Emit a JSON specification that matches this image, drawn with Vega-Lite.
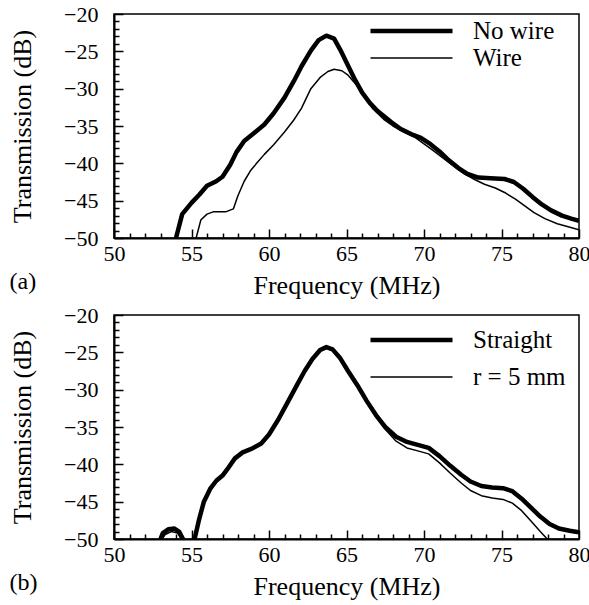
{
  "$schema": "https://vega.github.io/schema/vega-lite/v6.json",
  "background": "white",
  "padding": {"left": 8, "top": 2, "right": 5, "bottom": 2},
  "spacing": 4,
  "datasets": {
    "a": [
      {"series": "No wire", "f": 54.0, "v": -50},
      {"series": "No wire", "f": 54.4, "v": -46.8},
      {"series": "No wire", "f": 55.0, "v": -45.3},
      {"series": "No wire", "f": 55.5, "v": -44.2},
      {"series": "No wire", "f": 56.0, "v": -43.0},
      {"series": "No wire", "f": 56.6, "v": -42.4},
      {"series": "No wire", "f": 57.0, "v": -41.8},
      {"series": "No wire", "f": 57.5, "v": -40.2},
      {"series": "No wire", "f": 57.9, "v": -38.5},
      {"series": "No wire", "f": 58.4, "v": -37.0},
      {"series": "No wire", "f": 59.0, "v": -36.0},
      {"series": "No wire", "f": 59.7, "v": -34.8},
      {"series": "No wire", "f": 60.3, "v": -33.3},
      {"series": "No wire", "f": 61.0, "v": -31.2},
      {"series": "No wire", "f": 61.6, "v": -29.0},
      {"series": "No wire", "f": 62.1, "v": -27.0},
      {"series": "No wire", "f": 62.7, "v": -24.9},
      {"series": "No wire", "f": 63.2, "v": -23.5},
      {"series": "No wire", "f": 63.7, "v": -22.9},
      {"series": "No wire", "f": 64.2, "v": -23.3},
      {"series": "No wire", "f": 64.6, "v": -24.8},
      {"series": "No wire", "f": 65.0, "v": -26.5},
      {"series": "No wire", "f": 65.5, "v": -28.6},
      {"series": "No wire", "f": 66.0, "v": -30.5},
      {"series": "No wire", "f": 66.5, "v": -31.9},
      {"series": "No wire", "f": 67.0, "v": -33.0},
      {"series": "No wire", "f": 67.9, "v": -34.5},
      {"series": "No wire", "f": 68.5, "v": -35.4},
      {"series": "No wire", "f": 69.2, "v": -36.1},
      {"series": "No wire", "f": 69.8, "v": -36.6},
      {"series": "No wire", "f": 70.4, "v": -37.4},
      {"series": "No wire", "f": 71.0, "v": -38.4},
      {"series": "No wire", "f": 71.6, "v": -39.6},
      {"series": "No wire", "f": 72.2, "v": -40.6},
      {"series": "No wire", "f": 72.8, "v": -41.4},
      {"series": "No wire", "f": 73.5, "v": -41.9},
      {"series": "No wire", "f": 74.3, "v": -42.0},
      {"series": "No wire", "f": 75.2, "v": -42.1},
      {"series": "No wire", "f": 75.8, "v": -42.5},
      {"series": "No wire", "f": 76.4, "v": -43.4},
      {"series": "No wire", "f": 77.0, "v": -44.5},
      {"series": "No wire", "f": 77.6, "v": -45.5},
      {"series": "No wire", "f": 78.2, "v": -46.3},
      {"series": "No wire", "f": 78.9, "v": -47.0},
      {"series": "No wire", "f": 79.5, "v": -47.4},
      {"series": "No wire", "f": 80.0, "v": -47.7},
      {"series": "Wire", "f": 55.3, "v": -50},
      {"series": "Wire", "f": 55.6, "v": -47.6},
      {"series": "Wire", "f": 56.0, "v": -46.8},
      {"series": "Wire", "f": 56.4, "v": -46.5},
      {"series": "Wire", "f": 57.2, "v": -46.5},
      {"series": "Wire", "f": 57.7, "v": -46.1},
      {"series": "Wire", "f": 58.0, "v": -44.3},
      {"series": "Wire", "f": 58.4, "v": -42.4},
      {"series": "Wire", "f": 58.8, "v": -41.0},
      {"series": "Wire", "f": 59.2, "v": -40.0},
      {"series": "Wire", "f": 59.7, "v": -38.8},
      {"series": "Wire", "f": 60.3, "v": -37.5},
      {"series": "Wire", "f": 61.0, "v": -35.8},
      {"series": "Wire", "f": 61.6, "v": -34.2},
      {"series": "Wire", "f": 62.1, "v": -32.6},
      {"series": "Wire", "f": 62.7, "v": -30.0},
      {"series": "Wire", "f": 63.3, "v": -28.5},
      {"series": "Wire", "f": 63.8, "v": -27.7},
      {"series": "Wire", "f": 64.2, "v": -27.4},
      {"series": "Wire", "f": 64.7, "v": -27.6},
      {"series": "Wire", "f": 65.1, "v": -28.2},
      {"series": "Wire", "f": 65.6, "v": -29.4},
      {"series": "Wire", "f": 66.1, "v": -30.9},
      {"series": "Wire", "f": 66.7, "v": -32.7},
      {"series": "Wire", "f": 67.4, "v": -34.1},
      {"series": "Wire", "f": 68.0, "v": -35.0},
      {"series": "Wire", "f": 68.7, "v": -35.8},
      {"series": "Wire", "f": 69.4, "v": -36.5},
      {"series": "Wire", "f": 70.0, "v": -37.4},
      {"series": "Wire", "f": 70.6, "v": -38.3},
      {"series": "Wire", "f": 71.3, "v": -39.4},
      {"series": "Wire", "f": 72.0, "v": -40.5},
      {"series": "Wire", "f": 72.6, "v": -41.4},
      {"series": "Wire", "f": 73.3, "v": -42.2},
      {"series": "Wire", "f": 73.9, "v": -42.8},
      {"series": "Wire", "f": 74.6, "v": -43.3},
      {"series": "Wire", "f": 75.2, "v": -43.9},
      {"series": "Wire", "f": 75.9, "v": -44.8},
      {"series": "Wire", "f": 76.5, "v": -45.7},
      {"series": "Wire", "f": 77.1, "v": -46.6},
      {"series": "Wire", "f": 77.8, "v": -47.4},
      {"series": "Wire", "f": 78.6, "v": -48.1},
      {"series": "Wire", "f": 79.3, "v": -48.5},
      {"series": "Wire", "f": 80.0, "v": -48.9}
    ],
    "b": [
      {"series": "Straight", "f": 53.0, "v": -50},
      {"series": "Straight", "f": 53.15, "v": -49.2},
      {"series": "Straight", "f": 53.5, "v": -48.7},
      {"series": "Straight", "f": 53.9, "v": -48.6},
      {"series": "Straight", "f": 54.2, "v": -49.0},
      {"series": "Straight", "f": 54.45, "v": -50},
      {"series": "Straight", "f": 54.8, "v": -52},
      {"series": "Straight", "f": 55.2, "v": -50},
      {"series": "Straight", "f": 55.5, "v": -47.3},
      {"series": "Straight", "f": 55.8, "v": -45.0},
      {"series": "Straight", "f": 56.2, "v": -43.3},
      {"series": "Straight", "f": 56.6, "v": -42.2},
      {"series": "Straight", "f": 57.0, "v": -41.5},
      {"series": "Straight", "f": 57.4, "v": -40.4},
      {"series": "Straight", "f": 57.8, "v": -39.2},
      {"series": "Straight", "f": 58.3, "v": -38.4},
      {"series": "Straight", "f": 58.9, "v": -37.9},
      {"series": "Straight", "f": 59.5, "v": -37.2},
      {"series": "Straight", "f": 60.0, "v": -36.0},
      {"series": "Straight", "f": 60.6, "v": -34.0},
      {"series": "Straight", "f": 61.2, "v": -31.7},
      {"series": "Straight", "f": 61.8, "v": -29.4},
      {"series": "Straight", "f": 62.3, "v": -27.5},
      {"series": "Straight", "f": 62.8, "v": -25.9},
      {"series": "Straight", "f": 63.3, "v": -24.7},
      {"series": "Straight", "f": 63.7, "v": -24.3},
      {"series": "Straight", "f": 64.1, "v": -24.6},
      {"series": "Straight", "f": 64.6, "v": -25.8},
      {"series": "Straight", "f": 65.1, "v": -27.5},
      {"series": "Straight", "f": 65.7, "v": -29.4},
      {"series": "Straight", "f": 66.3, "v": -31.5},
      {"series": "Straight", "f": 66.9, "v": -33.4},
      {"series": "Straight", "f": 67.5, "v": -35.0},
      {"series": "Straight", "f": 68.2, "v": -36.3},
      {"series": "Straight", "f": 68.9, "v": -37.0},
      {"series": "Straight", "f": 69.6, "v": -37.4},
      {"series": "Straight", "f": 70.3, "v": -37.8},
      {"series": "Straight", "f": 71.0, "v": -38.9},
      {"series": "Straight", "f": 71.7, "v": -40.2},
      {"series": "Straight", "f": 72.4, "v": -41.4},
      {"series": "Straight", "f": 73.0, "v": -42.3},
      {"series": "Straight", "f": 73.7, "v": -42.9},
      {"series": "Straight", "f": 74.4, "v": -43.1},
      {"series": "Straight", "f": 75.1, "v": -43.2},
      {"series": "Straight", "f": 75.7, "v": -43.6},
      {"series": "Straight", "f": 76.3, "v": -44.6},
      {"series": "Straight", "f": 76.9, "v": -45.8},
      {"series": "Straight", "f": 77.5, "v": -47.0},
      {"series": "Straight", "f": 78.1, "v": -48.0},
      {"series": "Straight", "f": 78.7, "v": -48.6},
      {"series": "Straight", "f": 79.4, "v": -48.9},
      {"series": "Straight", "f": 80.0, "v": -49.1},
      {"series": "r = 5 mm", "f": 53.1, "v": -50},
      {"series": "r = 5 mm", "f": 53.3, "v": -49.4},
      {"series": "r = 5 mm", "f": 53.7, "v": -49.0},
      {"series": "r = 5 mm", "f": 54.1, "v": -49.2},
      {"series": "r = 5 mm", "f": 54.35, "v": -50},
      {"series": "r = 5 mm", "f": 54.8, "v": -52},
      {"series": "r = 5 mm", "f": 55.2, "v": -50},
      {"series": "r = 5 mm", "f": 55.5, "v": -47.3},
      {"series": "r = 5 mm", "f": 55.8, "v": -45.0},
      {"series": "r = 5 mm", "f": 56.2, "v": -43.3},
      {"series": "r = 5 mm", "f": 56.6, "v": -42.2},
      {"series": "r = 5 mm", "f": 57.0, "v": -41.5},
      {"series": "r = 5 mm", "f": 57.4, "v": -40.4},
      {"series": "r = 5 mm", "f": 57.8, "v": -39.2},
      {"series": "r = 5 mm", "f": 58.3, "v": -38.4},
      {"series": "r = 5 mm", "f": 58.9, "v": -37.9},
      {"series": "r = 5 mm", "f": 59.5, "v": -37.2},
      {"series": "r = 5 mm", "f": 60.0, "v": -36.0},
      {"series": "r = 5 mm", "f": 60.6, "v": -34.0},
      {"series": "r = 5 mm", "f": 61.2, "v": -31.7},
      {"series": "r = 5 mm", "f": 61.8, "v": -29.4},
      {"series": "r = 5 mm", "f": 62.3, "v": -27.5},
      {"series": "r = 5 mm", "f": 62.8, "v": -25.9},
      {"series": "r = 5 mm", "f": 63.3, "v": -24.7},
      {"series": "r = 5 mm", "f": 63.7, "v": -24.3},
      {"series": "r = 5 mm", "f": 64.1, "v": -24.6},
      {"series": "r = 5 mm", "f": 64.6, "v": -25.8},
      {"series": "r = 5 mm", "f": 65.1, "v": -27.5},
      {"series": "r = 5 mm", "f": 65.7, "v": -29.4},
      {"series": "r = 5 mm", "f": 66.3, "v": -31.5},
      {"series": "r = 5 mm", "f": 66.9, "v": -33.5},
      {"series": "r = 5 mm", "f": 67.5, "v": -35.3},
      {"series": "r = 5 mm", "f": 68.2, "v": -36.9},
      {"series": "r = 5 mm", "f": 68.9, "v": -37.8},
      {"series": "r = 5 mm", "f": 69.6, "v": -38.2},
      {"series": "r = 5 mm", "f": 70.3, "v": -38.6},
      {"series": "r = 5 mm", "f": 71.0, "v": -39.8},
      {"series": "r = 5 mm", "f": 71.7, "v": -41.2},
      {"series": "r = 5 mm", "f": 72.4, "v": -42.5},
      {"series": "r = 5 mm", "f": 73.0, "v": -43.5},
      {"series": "r = 5 mm", "f": 73.7, "v": -44.2},
      {"series": "r = 5 mm", "f": 74.4, "v": -44.5},
      {"series": "r = 5 mm", "f": 75.1, "v": -44.7},
      {"series": "r = 5 mm", "f": 75.7, "v": -45.2},
      {"series": "r = 5 mm", "f": 76.3, "v": -46.2},
      {"series": "r = 5 mm", "f": 76.9, "v": -47.6},
      {"series": "r = 5 mm", "f": 77.5, "v": -49.0},
      {"series": "r = 5 mm", "f": 77.95, "v": -50},
      {"series": "r = 5 mm", "f": 78.3, "v": -51}
    ]
  },
  "vconcat": [
    {
      "width": 465,
      "height": 224,
      "title": {"text": "(a)", "orient": "bottom", "anchor": "start", "frame": "bounds", "offset": -28, "font": "Liberation Serif, Times New Roman, serif", "fontSize": 24, "fontWeight": "normal", "color": "black"},
      "data": {"name": "a"},
      "layer": [
        {
          "mark": {"type": "line", "color": "black", "clip": true, "strokeJoin": "round", "strokeCap": "butt"},
          "encoding": {
            "x": {"field": "f", "type": "quantitative", "scale": {"domain": [50, 80], "nice": false, "zero": false},
                  "axis": {"values": [50, 55, 60, 65, 70, 75, 80], "ticks": false, "title": "Frequency (MHz)", "grid": false,
                           "labelFont": "Liberation Serif, Times New Roman, serif", "labelFontSize": 22, "labelColor": "black", "labelPadding": 5, "labelFlush": false, "labelOverlap": false,
                           "titleFont": "Liberation Serif, Times New Roman, serif", "titleFontSize": 26, "titleFontWeight": "normal", "titleColor": "black", "titlePadding": 8,
                           "domain": true, "domainColor": "black", "domainWidth": 2}},
            "y": {"field": "v", "type": "quantitative", "scale": {"domain": [-50, -20], "nice": false, "zero": false},
                  "axis": {"values": [-50, -45, -40, -35, -30, -25, -20], "ticks": false, "title": "Transmission (dB)", "grid": false,
                           "labelFont": "Liberation Serif, Times New Roman, serif", "labelFontSize": 22, "labelColor": "black", "labelPadding": 16, "labelFlush": false, "labelOverlap": false,
                           "titleFont": "Liberation Serif, Times New Roman, serif", "titleFontSize": 26, "titleFontWeight": "normal", "titleColor": "black", "titlePadding": 28,
                           "domain": true, "domainColor": "black", "domainWidth": 2}},
            "strokeWidth": {"field": "series", "type": "ordinal", "scale": {"domain": ["No wire", "Wire"], "range": [4.5, 1.5]},
                  "legend": {"orient": "none", "legendX": 254, "legendY": 4, "clipHeight": 26, "rowPadding": 1, "title": null,
                             "symbolType": "stroke", "symbolSize": 6724, "symbolStrokeColor": "black", "padding": 0, "direction": "vertical",
                             "labelFont": "Liberation Serif, Times New Roman, serif", "labelFontSize": 25, "labelColor": "black", "labelOffset": 18}},
            "detail": {"field": "series"}
          }
        },
        {
          "mark": {"type": "point", "opacity": 0},
          "encoding": {
            "x": {"field": "f", "type": "quantitative", "axis": {"orient": "top", "offset": -224, "values": [50, 55, 60, 65, 70, 75, 80], "labels": false, "domain": false, "grid": false, "ticks": true, "tickSize": 9, "tickColor": "black", "tickWidth": 1.5, "title": null}},
            "y": {"field": "v", "type": "quantitative", "axis": {"orient": "right", "offset": -465, "values": [-50, -45, -40, -35, -30, -25, -20], "labels": false, "domain": false, "grid": false, "ticks": true, "tickSize": 9, "tickColor": "black", "tickWidth": 1.5, "title": null}}
          }
        },
        {
          "mark": {"type": "point", "opacity": 0},
          "encoding": {
            "x": {"field": "f", "type": "quantitative", "axis": {"orient": "top", "offset": -224, "values": [51,52,53,54,56,57,58,59,61,62,63,64,66,67,68,69,71,72,73,74,76,77,78,79], "labels": false, "domain": false, "grid": false, "ticks": true, "tickSize": 5, "tickColor": "black", "tickWidth": 1.5, "title": null}},
            "y": {"field": "v", "type": "quantitative", "axis": {"orient": "right", "offset": -465, "values": [-49,-48,-47,-46,-44,-43,-42,-41,-39,-38,-37,-36,-34,-33,-32,-31,-29,-28,-27,-26,-24,-23,-22,-21], "labels": false, "domain": false, "grid": false, "ticks": true, "tickSize": 5, "tickColor": "black", "tickWidth": 1.5, "title": null}}
          }
        }
      ],
      "resolve": {"axis": {"x": "independent", "y": "independent"}}
    },
    {
      "width": 465,
      "height": 224,
      "title": {"text": "(b)", "orient": "bottom", "anchor": "start", "frame": "bounds", "offset": -28, "font": "Liberation Serif, Times New Roman, serif", "fontSize": 24, "fontWeight": "normal", "color": "black"},
      "data": {"name": "b"},
      "layer": [
        {
          "mark": {"type": "line", "color": "black", "clip": true, "strokeJoin": "round", "strokeCap": "butt"},
          "encoding": {
            "x": {"field": "f", "type": "quantitative", "scale": {"domain": [50, 80], "nice": false, "zero": false},
                  "axis": {"values": [50, 55, 60, 65, 70, 75, 80], "ticks": false, "title": "Frequency (MHz)", "grid": false,
                           "labelFont": "Liberation Serif, Times New Roman, serif", "labelFontSize": 22, "labelColor": "black", "labelPadding": 5, "labelFlush": false, "labelOverlap": false,
                           "titleFont": "Liberation Serif, Times New Roman, serif", "titleFontSize": 26, "titleFontWeight": "normal", "titleColor": "black", "titlePadding": 8,
                           "domain": true, "domainColor": "black", "domainWidth": 2}},
            "y": {"field": "v", "type": "quantitative", "scale": {"domain": [-50, -20], "nice": false, "zero": false},
                  "axis": {"values": [-50, -45, -40, -35, -30, -25, -20], "ticks": false, "title": "Transmission (dB)", "grid": false,
                           "labelFont": "Liberation Serif, Times New Roman, serif", "labelFontSize": 22, "labelColor": "black", "labelPadding": 16, "labelFlush": false, "labelOverlap": false,
                           "titleFont": "Liberation Serif, Times New Roman, serif", "titleFontSize": 26, "titleFontWeight": "normal", "titleColor": "black", "titlePadding": 28,
                           "domain": true, "domainColor": "black", "domainWidth": 2}},
            "strokeWidth": {"field": "series", "type": "ordinal", "scale": {"domain": ["Straight", "r = 5 mm"], "range": [4.5, 1.5]},
                  "legend": {"orient": "none", "legendX": 254, "legendY": 10, "clipHeight": 30, "rowPadding": 7, "title": null,
                             "symbolType": "stroke", "symbolSize": 6724, "symbolStrokeColor": "black", "padding": 0, "direction": "vertical",
                             "labelFont": "Liberation Serif, Times New Roman, serif", "labelFontSize": 25, "labelColor": "black", "labelOffset": 18}},
            "detail": {"field": "series"}
          }
        },
        {
          "mark": {"type": "point", "opacity": 0},
          "encoding": {
            "x": {"field": "f", "type": "quantitative", "axis": {"orient": "top", "offset": -224, "values": [50, 55, 60, 65, 70, 75, 80], "labels": false, "domain": false, "grid": false, "ticks": true, "tickSize": 9, "tickColor": "black", "tickWidth": 1.5, "title": null}},
            "y": {"field": "v", "type": "quantitative", "axis": {"orient": "right", "offset": -465, "values": [-50, -45, -40, -35, -30, -25, -20], "labels": false, "domain": false, "grid": false, "ticks": true, "tickSize": 9, "tickColor": "black", "tickWidth": 1.5, "title": null}}
          }
        },
        {
          "mark": {"type": "point", "opacity": 0},
          "encoding": {
            "x": {"field": "f", "type": "quantitative", "axis": {"orient": "top", "offset": -224, "values": [51,52,53,54,56,57,58,59,61,62,63,64,66,67,68,69,71,72,73,74,76,77,78,79], "labels": false, "domain": false, "grid": false, "ticks": true, "tickSize": 5, "tickColor": "black", "tickWidth": 1.5, "title": null}},
            "y": {"field": "v", "type": "quantitative", "axis": {"orient": "right", "offset": -465, "values": [-49,-48,-47,-46,-44,-43,-42,-41,-39,-38,-37,-36,-34,-33,-32,-31,-29,-28,-27,-26,-24,-23,-22,-21], "labels": false, "domain": false, "grid": false, "ticks": true, "tickSize": 5, "tickColor": "black", "tickWidth": 1.5, "title": null}}
          }
        }
      ],
      "resolve": {"axis": {"x": "independent", "y": "independent"}}
    }
  ],
  "resolve": {"scale": {"strokeWidth": "independent"}, "legend": {"strokeWidth": "independent"}},
  "config": {
    "font": "Liberation Serif, Times New Roman, serif",
    "view": {"stroke": "black", "strokeWidth": 1.5}
  }
}
